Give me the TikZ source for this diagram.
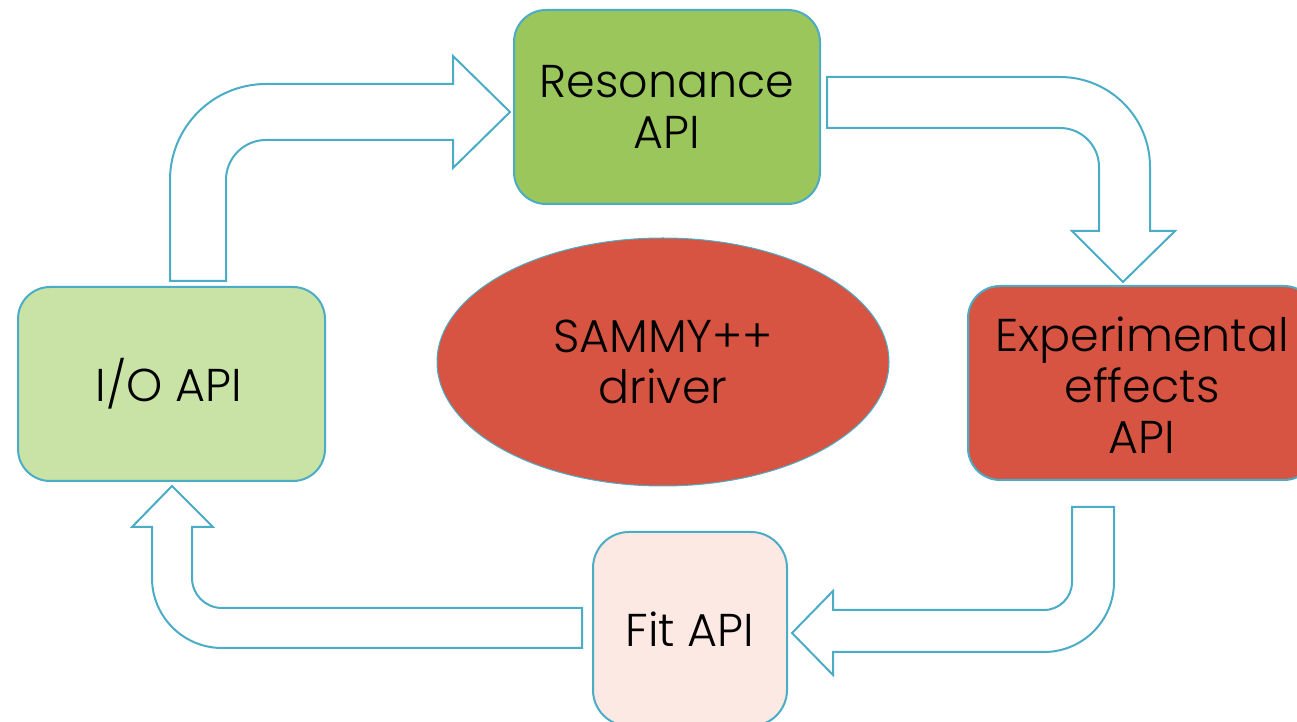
\documentclass[tikz,border=0pt]{standalone}
\usepackage{fontspec}
\setmainfont{Poppins}[UprightFont=* Light]
\usetikzlibrary{shapes.geometric}
\definecolor{teal}{HTML}{4BACC6}
\definecolor{resgreen}{HTML}{9BC65C}
\definecolor{iogreen}{HTML}{C9E2A5}
\definecolor{expred}{HTML}{D75442}
\definecolor{fitpink}{HTML}{FDE9E4}
\tikzset{
  apibox/.style={draw=teal, line width=2pt, rounded corners=32pt, minimum width=306pt, minimum height=194pt, inner sep=0pt},
  lbl/.style={font=\fontsize{46}{51}\selectfont, align=center, text=black},
  blockarrow/.style={draw=teal, line width=2pt, fill=white, line join=miter},
}
\begin{document}
\begin{tikzpicture}[x=1pt,y=1pt]
\useasboundingbox (0,0) rectangle (1297,722);
\begin{scope}
\clip (0,0) rectangle (1297,722);
% boxes
\node[apibox, fill=resgreen] (res) at (667,615) {};
\node[apibox, fill=iogreen, minimum width=307pt] (io) at (171.5,338) {};
\node[apibox, fill=expred, minimum width=348pt] (exp) at (1142,339) {};
\node[apibox, fill=fitpink, minimum width=194pt, rounded corners=36pt] (fit) at (690,93) {};
\node[ellipse, draw=teal, line width=1pt, fill=expred, minimum width=452pt, minimum height=248pt, inner sep=0pt] (drv) at (663,360) {};
% labels
\node[lbl] (reslbl) at (res.center) {Resonance\\API};
\node[lbl] (iolbl) at (169,338) {I/O API};
\node[lbl] (explbl) at (1142,337) {Experimental\\effects\\API};
\node[lbl] (fitlbl) at (690,93) {Fit API};
\node[lbl] (drvlbl) at (drv.center) {SAMMY++\\driver};
% block arrows
\draw[blockarrow] (170,441) -- (170,542) arc[start angle=180,end angle=90,radius=96] -- (453,638) -- (453,666) -- (510,610) -- (453,554) -- (453,582) -- (266,582) arc[start angle=90,end angle=180,radius=40] -- (226,441) -- cycle;
\draw[blockarrow] (827,645) -- (1060,645) arc[start angle=90,end angle=0,radius=90] -- (1150,491) -- (1175,491) -- (1123,440) -- (1072,491) -- (1099,491) -- (1099,555) arc[start angle=0,end angle=90,radius=39] -- (827,594) -- cycle;
\draw[blockarrow] (1072,215) -- (1072,140) arc[start angle=0,end angle=-90,radius=28] -- (833,112) -- (833,131) -- (792,89) -- (833,47) -- (833,70) -- (1044,70) arc[start angle=-90,end angle=0,radius=70] -- (1114,215) -- cycle;
\draw[blockarrow] (582,114) -- (222,114) arc[start angle=270,end angle=180,radius=30] -- (192,195) -- (213,195) -- (172,236) -- (132,195) -- (152,195) -- (152,144) arc[start angle=180,end angle=270,radius=70] -- (582,74) -- cycle;
\end{scope}
\end{tikzpicture}
\end{document}
